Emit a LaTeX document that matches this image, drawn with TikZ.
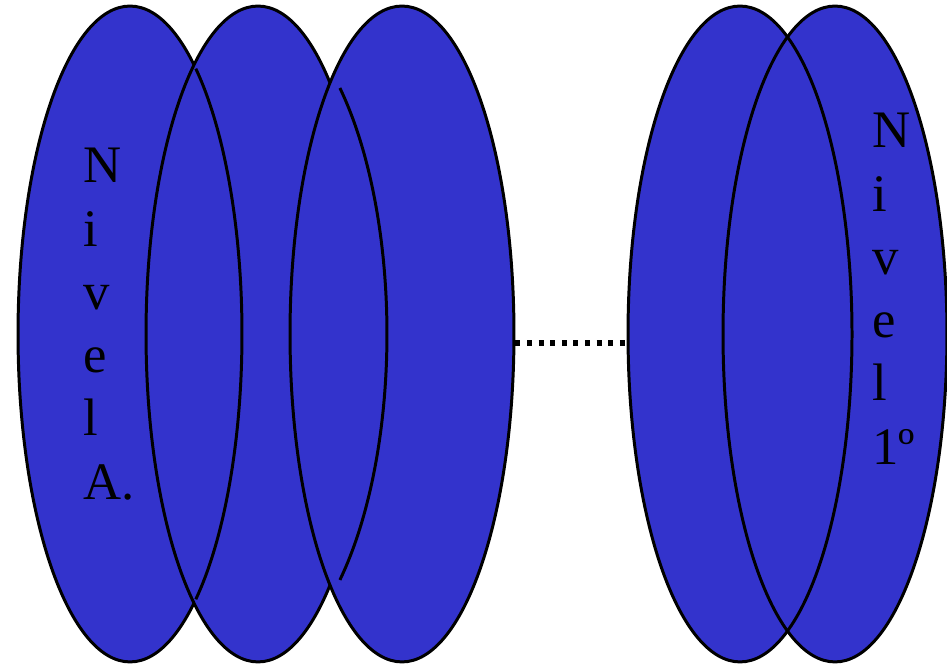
\documentclass[tikz,border=0pt]{standalone}
\usepackage{fontspec}
\setmainfont{Liberation Serif}
\usepackage{tikz}
\usetikzlibrary{calc,shapes.geometric}
\definecolor{lobeblue}{HTML}{3333CC}
\tikzset{
  lobe/.style={ellipse, draw=black, line width=1.7pt, fill=lobeblue,
    inner sep=0pt, minimum width=4.48cm, minimum height=13.12cm},
  edge/.style={line width=1.7pt},
  leveltext/.style={anchor=north west, inner sep=0pt, align=left,
    font=\rmfamily\fontsize{30}{36}\selectfont}
}

\begin{document}
\begin{tikzpicture}[x=0.02cm,y=0.02cm]
    \useasboundingbox (0,0) rectangle (947,665);
    % left group
    \node[lobe] (e1) at (130,331) {};
    \node[lobe] (e2) at (258,331) {};
    \node[lobe] (e3) at (402,331) {};
    \draw[edge] ($(e1.center)+(54:2.24cm and 6.56cm)$) arc[start angle=54, end angle=-54, x radius=2.24cm, y radius=6.56cm];
    \coordinate (c2) at ($(e2.center)+(-10,0)$);
    \draw[edge] ($(c2)+(48.6:2.78cm and 6.56cm)$) arc[start angle=48.6, end angle=-48.6, x radius=2.78cm, y radius=6.56cm];
    % right group
    \node[lobe] (e4) at (740,331) {};
    \node[lobe] (e5) at (835,331) {};
    \draw[edge] ($(e4.center)+(65:2.24cm and 6.56cm)$) arc[start angle=65, end angle=-65, x radius=2.24cm, y radius=6.56cm];
    % link
    \draw[line width=3pt, dash pattern=on 2.8pt off 3.8pt] ($(e3.east)+(0,-9)$) -- ($(e4.west)+(0,-9)$);
    % texts
    \node[leveltext] (nivelA) at (83,517) {N\\i\\v\\e\\l\\A.};
    \node[leveltext] (nivel1) at (872,552) {N\\i\\v\\e\\l\\1º};
\end{tikzpicture}
\end{document}
